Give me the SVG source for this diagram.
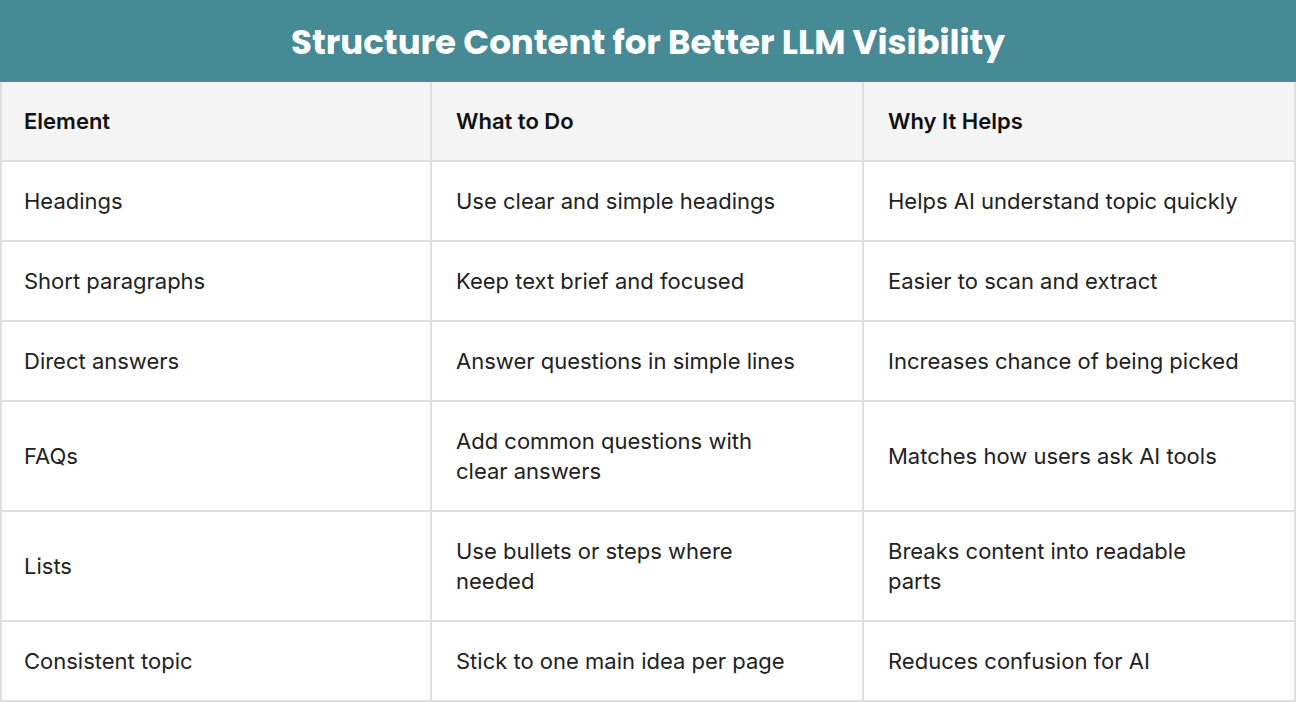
<svg xmlns="http://www.w3.org/2000/svg" width="1296" height="702" viewBox="0 0 1296 702">
<style>
.t{font-family:Inter,"Noto Sans",sans-serif;font-size:22px;fill:#222}
.h{font-weight:600;fill:#111}
.g{stroke:#dedede;stroke-width:2;fill:none}
</style>
<rect width="1296" height="702" fill="#fff"/>
<g id="title"><rect width="1296" height="82" fill="#468a96"/>
<text x="648" y="54" text-anchor="middle" font-family="Poppins,Inter,sans-serif" font-weight="700" font-size="34" fill="#fff">Structure Content for Better LLM Visibility</text></g>
<rect y="82" width="1296" height="79" fill="#f4f4f4"/>
<g id="grid" class="g">
<path d="M0 161H1296M0 241H1296M0 321H1296M0 401H1296M0 511H1296M0 621H1296M0 701H1296M431 82V701M863 82V701M1 82V701M1295 82V701"/>
</g>
<g id="header" class="t h"><text x="24" y="129">Element</text><text x="456" y="129">What to Do</text><text x="888" y="129">Why It Helps</text></g>
<g id="r1" class="t"><text x="24" y="209">Headings</text><text x="456" y="209">Use clear and simple headings</text><text x="888" y="209">Helps AI understand topic quickly</text></g>
<g id="r2" class="t"><text x="24" y="289">Short paragraphs</text><text x="456" y="289">Keep text brief and focused</text><text x="888" y="289">Easier to scan and extract</text></g>
<g id="r3" class="t"><text x="24" y="369">Direct answers</text><text x="456" y="369">Answer questions in simple lines</text><text x="888" y="369">Increases chance of being picked</text></g>
<g id="r4" class="t"><text x="24" y="464">FAQs</text><text x="456" y="449">Add common questions with</text><text x="456" y="479">clear answers</text><text x="888" y="464">Matches how users ask AI tools</text></g>
<g id="r5" class="t"><text x="24" y="574">Lists</text><text x="456" y="559">Use bullets or steps where</text><text x="456" y="589">needed</text><text x="888" y="559">Breaks content into readable</text><text x="888" y="589">parts</text></g>
<g id="r6" class="t"><text x="24" y="669">Consistent topic</text><text x="456" y="669">Stick to one main idea per page</text><text x="888" y="669">Reduces confusion for AI</text></g>
</svg>
